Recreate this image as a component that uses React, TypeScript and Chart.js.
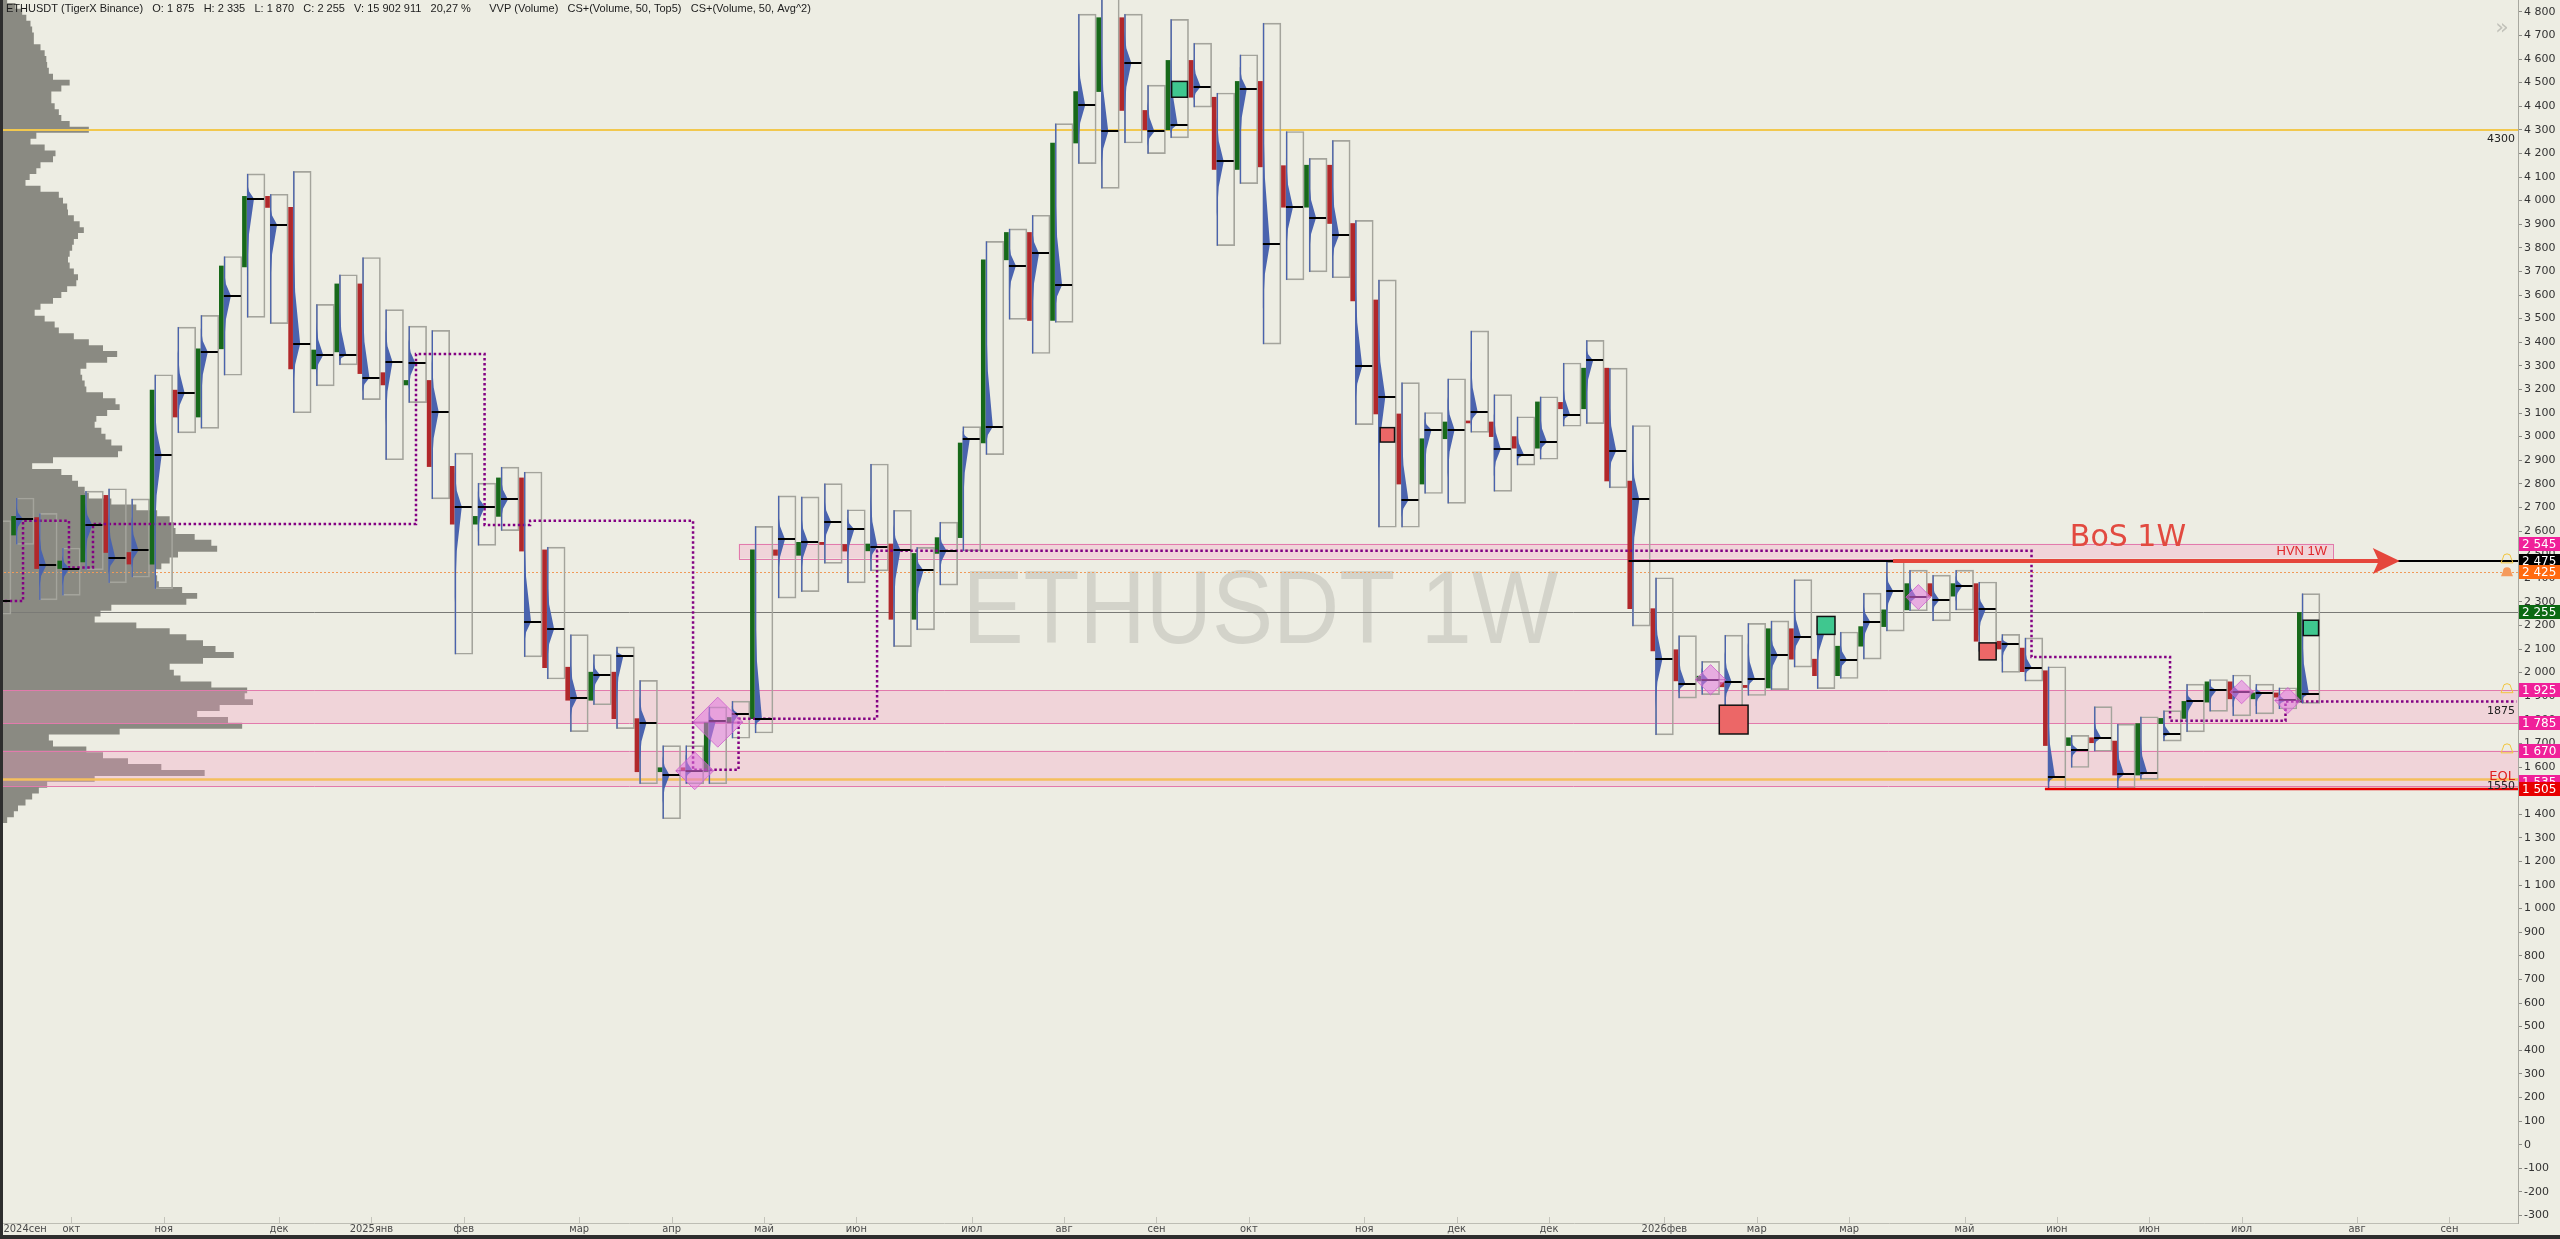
import React, { useEffect, useRef } from "react";
import { Chart, registerables } from "chart.js";

Chart.register(...registerables);

// ---------- weekly candles (index = week number on the x scale) ----------
const OPEN = [2300, 2583, 2657, 2441, 2469, 2751, 2509, 2460, 3197, 3083, 3372, 3719, 4018, 3971, 3287, 3359, 3647, 3271, 3219, 3238,
  2874, 2629, 2662, 2825, 2520, 2023, 1883, 2002, 1805, 1580, 1597, 1580, 1787, 1805, 2520, 2497, 2552, 2543, 2516, 2545,
  2226, 2505, 2572, 2973, 3749, 3865, 3492, 4244, 4462, 4775, 4382, 4300, 4594, 4438, 4132, 4505, 4148, 3972, 4150, 3903,
  3579, 3096, 2799, 2991, 3062, 3062, 3000, 2951, 3145, 3118, 3290, 2812, 2271, 2097, 1965, 1958, 1946, 1935, 2186, 2057,
  1987, 2112, 2195, 2266, 2377, 2324, 2377, 2133, 2104, 2008, 1691, 1724, 1710, 1566, 1784, 1806, 1875, 1961, 1889, 1914, 1875];
const HIGH = [2644, 2740, 2675, 2528, 2769, 2779, 2736, 3262, 3464, 3514, 3763, 4113, 4027, 4124, 3560, 3686, 3759, 3538, 3468, 3450,
  2930, 2803, 2871, 2850, 2532, 2161, 2076, 2109, 1967, 1691, 1691, 1855, 1879, 2620, 2749, 2745, 2801, 2690, 2884, 2688,
  2531, 2638, 3042, 3827, 3880, 3938, 4326, 4790, 4880, 4790, 4489, 4768, 4667, 4456, 4618, 4752, 4293, 4179, 4255, 3916,
  3664, 3229, 3102, 3245, 3448, 3178, 3084, 3169, 3312, 3408, 3290, 3047, 2402, 2157, 2048, 2159, 2209, 2219, 2394, 2205,
  2172, 2337, 2470, 2434, 2413, 2434, 2384, 2162, 2147, 2025, 1734, 1856, 1782, 1813, 1839, 1951, 1971, 1990, 1951, 1936, 2335];
const LOW = [2248, 2543, 2308, 2327, 2436, 2380, 2404, 2355, 3016, 3035, 3260, 3505, 3479, 3101, 3215, 3304, 3157, 2902, 3144, 2736,
  2078, 2539, 2602, 2067, 1973, 1750, 1864, 1763, 1529, 1381, 1529, 1529, 1722, 1744, 2316, 2343, 2463, 2380, 2431, 2110,
  2181, 2371, 2516, 2924, 3497, 3352, 3484, 4157, 4052, 4244, 4199, 4266, 4396, 3809, 4072, 3392, 3664, 3698, 3673, 3051,
  2616, 2616, 2759, 2717, 3018, 2768, 2879, 2904, 3044, 3055, 2783, 2197, 1736, 1892, 1907, 1802, 1903, 1928, 2023, 1932,
  1975, 2057, 2176, 2262, 2219, 2265, 2090, 2001, 1964, 1506, 1598, 1667, 1509, 1548, 1710, 1749, 1836, 1817, 1825, 1846, 1870];
const CLOSE = [2583, 2662, 2441, 2473, 2751, 2509, 2460, 3197, 3083, 3372, 3723, 4018, 3971, 3287, 3367, 3647, 3267, 3219, 3238, 2873,
  2629, 2662, 2825, 2515, 2021, 1883, 2002, 1805, 1580, 1597, 1585, 1787, 1810, 2520, 2497, 2552, 2543, 2515, 2545, 2226,
  2505, 2572, 2973, 3749, 3865, 3492, 4244, 4462, 4775, 4382, 4300, 4594, 4438, 4132, 4505, 4143, 3972, 4150, 3903, 3575,
  3096, 2799, 2991, 3062, 3058, 3000, 2951, 3147, 3118, 3290, 2812, 2271, 2092, 1965, 1985, 1940, 1937, 2186, 2057, 1987,
  2112, 2195, 2266, 2377, 2324, 2377, 2133, 2100, 2004, 1691, 1724, 1703, 1566, 1784, 1806, 1878, 1961, 1889, 1914, 1896, 2255];
const POC = [2303, 2650, 2454, 2441, 2624, 2484, 2519, 2921, 3184, 3359, 3597, 4008, 3898, 3393, 3346, 3346, 3249, 3317, 3310, 3105,
  2703, 2703, 2734, 2216, 2185, 1894, 1989, 2072, 1787, 1565, 1584, 1794, 1824, 1805, 2565, 2552, 2638, 2607, 2534, 2520,
  2433, 2516, 2989, 3042, 3724, 3776, 3642, 4404, 4293, 4583, 4293, 4322, 4482, 4166, 4474, 3816, 3972, 3927, 3854, 3298,
  3169, 2730, 3029, 3029, 3104, 2948, 2924, 2977, 3093, 3323, 2940, 2734, 2057, 1952, 1970, 1960, 1975, 2073, 2152, 2162,
  2054, 2216, 2345, 2320, 2308, 2368, 2268, 2123, 2021, 1559, 1674, 1724, 1569, 1576, 1741, 1878, 1925, 1918, 1914, 1882, 1910];

// ---------- x axis month ticks ----------
const MONTH_TICKS = [1, 3, 7, 12, 16, 20, 25, 29, 33, 37, 42, 46, 50, 54, 59, 63, 67, 72, 76, 80, 85, 89, 93, 97, 102, 106];
const MONTH_LABELS = ["2024сен", "окт", "ноя", "дек", "2025янв", "фев", "мар", "апр", "май", "июн", "июл", "авг", "сен", "окт",
  "ноя", "дек", "дек", "2026фев", "мар", "мар", "май", "июн", "июн", "июл", "авг", "сен"];

// ---------- left visible-range volume profile (bin centre price, volume) ----------
const VP_PRICE = [4850, 4825, 4800, 4775, 4750, 4725, 4700, 4675, 4650, 4625, 4600, 4575, 4550, 4525, 4500, 4475, 4450, 4425, 4400, 4375,
  4350, 4325, 4300, 4275, 4250, 4225, 4200, 4175, 4150, 4125, 4100, 4075, 4050, 4025, 4000, 3975, 3950, 3925, 3900, 3875,
  3850, 3825, 3800, 3775, 3750, 3725, 3700, 3675, 3650, 3625, 3600, 3575, 3550, 3525, 3500, 3475, 3450, 3425, 3400, 3375,
  3350, 3325, 3300, 3275, 3250, 3225, 3200, 3175, 3150, 3125, 3100, 3075, 3050, 3025, 3000, 2975, 2950, 2925, 2900, 2875,
  2850, 2825, 2800, 2775, 2750, 2725, 2700, 2675, 2650, 2625, 2600, 2575, 2550, 2525, 2500, 2475, 2450, 2425, 2400, 2375,
  2350, 2325, 2300, 2275, 2250, 2225, 2200, 2175, 2150, 2125, 2100, 2075, 2050, 2025, 2000, 1975, 1950, 1925, 1900, 1875,
  1850, 1825, 1800, 1775, 1750, 1725, 1700, 1675, 1650, 1625, 1600, 1575, 1550, 1525, 1500, 1475, 1450, 1425, 1400, 1375];
const VP_VOL = [5, 15, 23, 28, 33, 35, 37, 37, 45, 50, 52, 53, 55, 60, 80, 70, 58, 58, 62, 67,
  70, 80, 103, 40, 33, 50, 63, 60, 45, 40, 32, 27, 45, 67, 72, 77, 78, 85, 92, 97,
  90, 85, 83, 80, 78, 80, 85, 90, 88, 77, 70, 60, 45, 38, 50, 62, 67, 85, 103, 120,
  137, 125, 100, 93, 95, 98, 100, 120, 135, 140, 125, 112, 110, 118, 123, 130, 143, 138, 60, 35,
  70, 83, 90, 98, 103, 130, 160, 185, 200, 205, 207, 230, 250, 257, 210, 200, 190, 183, 185, 187,
  215, 233, 220, 130, 117, 110, 160, 200, 220, 240, 255, 277, 240, 200, 205, 213, 250, 293, 290, 300,
  260, 233, 270, 287, 140, 55, 60, 100, 120, 150, 190, 242, 110, 53, 43, 35, 27, 18, 13, 5];
const VP_STEP = 25;

// ---------- levels ----------
// [high, low, xStart | null, xEnd | null]
const ZONES: [number, number, number | null, number | null][] = [
  [2546, 2484, 31.9, 100.95],
  [1925, 1785, null, null],
  [1670, 1520, null, null],
];
// [price, colour, width, dash]
const LEVELS: [number, string, number, number[]][] = [
  [4300, "#f2c84e", 2, []],
  [2425, "#f09a58", 1, [2, 2]],
  [2255, "#7a7a76", 1, []],
  [1549, "#f5bf5c", 2.5, []],
];
const BOS_LEVEL = 2475;
const BOS_LINE_START = 70.45;
const BOS_ARROW = [81.9, 103.85];
const EQL_LEVEL = 1505;
const EQL_LINE_START = 88.48;
// purple dotted step line: [xStart, xEnd, price]
const STEP_SEGMENTS: [number, number, number][] = [
  [-0.1, 0.91, 2303], [0.91, 2.9, 2644], [2.9, 3.94, 2445], [3.94, 17.93, 2630], [17.93, 20.9, 3350],
  [20.9, 22.87, 2626], [22.87, 29.93, 2644], [29.93, 31.9, 1588], [31.9, 37.9, 1805], [37.9, 87.9, 2516],
  [87.9, 93.9, 2066], [93.9, 98.9, 1796], [98.9, 108.9, 1878],
];
// diamonds: [week, price, half-height in price]
const DIAMONDS: [number, number, number][] = [
  [30, 1584, 80], [31, 1790, 106], [74, 1970, 64], [83, 2320, 53], [97, 1918, 50], [99, 1882, 55],
];
// big-trade squares: [week, low, high, kind]
const MARKERS: [number, number, number, string][] = [
  [51, 4438, 4505, "buy"], [79, 2162, 2238, "buy"], [100, 2157, 2222, "buy"],
  [60, 2977, 3038, "sell"], [75, 1740, 1862, "sell"], [86, 2054, 2126, "sell"],
];
// price-axis tags: [price, background, text colour]
const AXIS_TAGS: [number, string, string][] = [
  [2545, "#f0209a", "#ffffff"], [2475, "#000000", "#ffffff"], [2425, "#ff6a10", "#ffffff"],
  [2255, "#0b6a12", "#ffffff"], [1925, "#f0209a", "#ffffff"], [1785, "#f0209a", "#ffffff"],
  [1670, "#f0209a", "#ffffff"], [1535, "#f0209a", "#ffffff"], [1505, "#e80000", "#ffffff"],
];
const X_MIN = -0.087;
const X_MAX = 108.97;
const Y_MIN = -332;
const Y_MAX = 4850;

const BG = "#edede3";
const GREEN = "#17691a";
const RED = "#b1282b";
const HEADER = "ETHUSDT (TigerX Binance)   O: 1 875   H: 2 335   L: 1 870   C: 2 255   V: 15 902 911   20,27 %      VVP (Volume)   CS+(Volume, 50, Top5)   CS+(Volume, 50, Avg^2)";

const fmtPrice = (v: number) => {
  const a = Math.abs(v);
  const s = a >= 1000 ? `${Math.floor(a / 1000)} ${String(a % 1000).padStart(3, "0")}` : String(a);
  return (v < 0 ? "-" : "") + s;
};

const decor = {
  id: "decor",
  beforeDraw(chart: any) {
    const { ctx, width, height } = chart;
    ctx.save();
    ctx.fillStyle = BG;
    ctx.fillRect(0, 0, width, height);
    ctx.restore();
  },
  beforeDatasetsDraw(chart: any) {
    const { ctx, chartArea: ca, scales } = chart;
    const X = (v: number) => scales.x.getPixelForValue(v);
    const Y = (p: number) => scales.y.getPixelForValue(p);
    const W = (w: number) => scales.xv.getPixelForValue(w) - scales.xv.getPixelForValue(0);
    ctx.save();
    ctx.beginPath();
    ctx.rect(ca.left, ca.top, ca.right - ca.left, ca.bottom - ca.top);
    ctx.clip();

    // watermark
    ctx.save();
    ctx.translate(X(54.5), Y(2126));
    ctx.scale(0.89, 1);
    ctx.font = "103px 'Liberation Sans', Arial, sans-serif";
    ctx.fillStyle = "#d3d3ca";
    ctx.textAlign = "center";
    ctx.textBaseline = "alphabetic";
    ctx.fillText("ETHUSDT 1W", 0, 0);
    ctx.restore();

    // visible range volume profile
    const x0 = ca.left + 3;
    ctx.beginPath();
    ctx.moveTo(x0, Y(VP_PRICE[0] + VP_STEP / 2));
    VP_PRICE.forEach((p, k) => {
      const w = W(VP_VOL[k]);
      ctx.lineTo(x0 + w, Y(p + VP_STEP / 2));
      ctx.lineTo(x0 + w, Y(p - VP_STEP / 2));
    });
    ctx.lineTo(x0, Y(VP_PRICE[VP_PRICE.length - 1] - VP_STEP / 2));
    ctx.closePath();
    ctx.fillStyle = "#8a8a82";
    ctx.fill();

    // zones
    ZONES.forEach(([hi, lo, xs, xe]) => {
      const l = xs === null ? ca.left : X(xs);
      const r = xe === null ? ca.right : X(xe);
      const t = Y(hi), b = Y(lo);
      ctx.fillStyle = "rgba(247,154,197,0.30)";
      ctx.fillRect(l, t, r - l, b - t);
      ctx.strokeStyle = "#e27aac";
      ctx.lineWidth = 1;
      if (xs === null) {
        ctx.beginPath();
        ctx.moveTo(l, Math.round(t) + 0.5); ctx.lineTo(r, Math.round(t) + 0.5);
        ctx.moveTo(l, Math.round(b) + 0.5); ctx.lineTo(r, Math.round(b) + 0.5);
        ctx.stroke();
      } else {
        ctx.strokeRect(Math.round(l) + 0.5, Math.round(t) + 0.5, Math.round(r - l), Math.round(b - t));
      }
    });

    // level lines
    LEVELS.forEach(([p, c, w, d]) => {
      ctx.beginPath();
      ctx.setLineDash(d);
      ctx.strokeStyle = c;
      ctx.lineWidth = w;
      const y = Math.round(Y(p)) + (w % 2 ? 0.5 : 0);
      ctx.moveTo(ca.left, y);
      ctx.lineTo(ca.right, y);
      ctx.stroke();
    });
    ctx.setLineDash([]);
    ctx.restore();
  },
  afterDatasetsDraw(chart: any) {
    const { ctx, chartArea: ca, scales } = chart;
    const X = (v: number) => scales.x.getPixelForValue(v);
    const Y = (p: number) => scales.y.getPixelForValue(p);
    ctx.save();
    ctx.beginPath();
    ctx.rect(ca.left, ca.top, ca.right - ca.left, ca.bottom - ca.top);
    ctx.clip();

    // per-week cluster profile + POC
    HIGH.forEach((h, i) => {
      const xl = X(i) - 9;
      const xr = X(i) + 9;
      const yH = Y(h), yL = Y(LOW[i]), yP = Y(POC[i]);
      ctx.fillStyle = "#4a63ae";
      ctx.fillRect(xl, yH, 1.3, yL - yH);
      ctx.beginPath();
      ctx.moveTo(xl, yH + (yP - yH) * 0.35);
      ctx.lineTo(xl + 2, yH + (yP - yH) * 0.7);
      ctx.lineTo(xl + 7, yP);
      ctx.lineTo(xl + 2, yP + (yL - yP) * 0.3);
      ctx.lineTo(xl, yP + (yL - yP) * 0.65);
      ctx.closePath();
      ctx.fill();
      ctx.fillStyle = "#000000";
      ctx.fillRect(xl, Math.round(yP) - 1, xr - xl - 1, 2);
    });

    // diamonds
    DIAMONDS.forEach(([i, p, hh]) => {
      const cx = X(i), cy = Y(p);
      const s = (Y(p - hh) - Y(p + hh)) / 2;
      ctx.beginPath();
      ctx.moveTo(cx, cy - s); ctx.lineTo(cx + s, cy); ctx.lineTo(cx, cy + s); ctx.lineTo(cx - s, cy);
      ctx.closePath();
      ctx.fillStyle = "rgba(226,118,222,0.55)";
      ctx.fill();
      ctx.strokeStyle = "rgba(205,95,205,0.8)";
      ctx.lineWidth = 1;
      ctx.stroke();
      ctx.beginPath();
      ctx.moveTo(cx - s, cy); ctx.lineTo(cx + s, cy);
      ctx.strokeStyle = "rgba(170,60,170,0.6)";
      ctx.stroke();
    });

    // big trade squares
    MARKERS.forEach(([i, lo, hi, kind]) => {
      const t = Y(hi), b = Y(lo);
      const s = b - t;
      const cx = X(i);
      ctx.fillStyle = kind === "buy" ? "#3fc78f" : "#ec6767";
      ctx.fillRect(cx - s / 2, t, s, s);
      ctx.strokeStyle = "#111111";
      ctx.lineWidth = 1.5;
      ctx.strokeRect(cx - s / 2, t, s, s);
    });

    // BoS level line
    ctx.strokeStyle = "#000000";
    ctx.lineWidth = 2;
    ctx.beginPath();
    ctx.moveTo(X(BOS_LINE_START), Math.round(Y(BOS_LEVEL)));
    ctx.lineTo(ca.right, Math.round(Y(BOS_LEVEL)));
    ctx.stroke();
    // red arrow
    const ay = Math.round(Y(BOS_LEVEL));
    const ax0 = X(BOS_ARROW[0]), tip = X(BOS_ARROW[1]);
    ctx.strokeStyle = "#e5463c";
    ctx.lineWidth = 4;
    ctx.beginPath();
    ctx.moveTo(ax0, ay);
    ctx.lineTo(tip - 20, ay);
    ctx.stroke();
    ctx.fillStyle = "#e5463c";
    ctx.beginPath();
    ctx.moveTo(tip, ay);
    ctx.lineTo(tip - 27, ay - 13);
    ctx.lineTo(tip - 21, ay);
    ctx.lineTo(tip - 27, ay + 13);
    ctx.closePath();
    ctx.fill();

    // EQL low line
    ctx.strokeStyle = "#e60000";
    ctx.lineWidth = 2.5;
    ctx.beginPath();
    ctx.moveTo(X(EQL_LINE_START), Math.round(Y(EQL_LEVEL)));
    ctx.lineTo(ca.right, Math.round(Y(EQL_LEVEL)));
    ctx.stroke();

    // texts
    ctx.textBaseline = "middle";
    ctx.font = "30px 'DejaVu Sans', sans-serif";
    ctx.fillStyle = "#e24a40";
    ctx.textAlign = "left";
    ctx.fillText("BoS 1W", X(89.56), Y(2521) - 11);
    ctx.font = "13px 'Liberation Sans', Arial, sans-serif";
    ctx.fillStyle = "#e0282a";
    ctx.textAlign = "right";
    ctx.fillText("HVN 1W", X(100.7), Y(2515));
    ctx.font = "11px 'DejaVu Sans', sans-serif";
    ctx.fillStyle = "#222222";
    ctx.fillText("4300", ca.right - 3, Y(4300) + 9);
    ctx.fillText("1875", ca.right - 3, Y(1878) + 10);
    ctx.fillText("1550", ca.right - 3, Y(1549) + 7);
    ctx.font = "13px 'DejaVu Sans', sans-serif";
    ctx.fillStyle = "#e02020";
    ctx.fillText("EQL", ca.right - 3, Y(1549) - 2);
    ctx.restore();
  },
  afterDraw(chart: any) {
    const { ctx, chartArea: ca, scales, width, height } = chart;
    const X = (v: number) => scales.x.getPixelForValue(v);
    const Y = (p: number) => scales.y.getPixelForValue(p);
    ctx.save();
    // price tags
    ctx.font = "12px 'DejaVu Sans', sans-serif";
    ctx.textAlign = "left";
    ctx.textBaseline = "middle";
    AXIS_TAGS.forEach(([p, bg, fg]) => {
      const y = Math.round(Y(p));
      ctx.fillStyle = bg;
      ctx.fillRect(ca.right + 1, y - 7, width - ca.right - 1, 14);
      ctx.fillStyle = fg;
      ctx.fillText(fmtPrice(p), ca.right + 4, y + 0.5);
    });
    // alert bells
    const bell = (p: number, filled: boolean, col: string) => {
      const bx = ca.right - 11, by = Y(p);
      ctx.beginPath();
      ctx.arc(bx, by - 1, 4, Math.PI, 0);
      ctx.lineTo(bx + 6, by + 4);
      ctx.lineTo(bx - 6, by + 4);
      ctx.closePath();
      ctx.lineWidth = 1;
      if (filled) { ctx.fillStyle = col; ctx.fill(); } else { ctx.strokeStyle = col; ctx.stroke(); }
    };
    bell(2482, false, "#f2c640");
    bell(2425, true, "#f59a5c");
    bell(1932, false, "#f2c640");
    bell(1677, false, "#f2c640");
    // x tick marks + month labels
    ctx.strokeStyle = "#c4c4bb";
    ctx.lineWidth = 1;
    MONTH_TICKS.slice(1).forEach((v) => {
      const x = Math.round(X(v)) + 0.5;
      ctx.beginPath();
      ctx.moveTo(x, ca.bottom - 6);
      ctx.lineTo(x, ca.bottom);
      ctx.stroke();
    });
    ctx.font = "11px 'DejaVu Sans Condensed', 'DejaVu Sans', sans-serif";
    ctx.fillStyle = "#4a4a4a";
    ctx.textAlign = "center";
    ctx.textBaseline = "middle";
    scales.x.ticks.forEach((t: any, k: number) => {
      ctx.fillText(MONTH_LABELS[k] ?? "", X(t.value), ca.bottom + 6);
    });
    // header
    ctx.textAlign = "left";
    ctx.font = "11px 'Liberation Sans', Arial, sans-serif";
    ctx.fillStyle = "#1c1c1c";
    ctx.fillText(HEADER, 6, 9);
    // collapse chevron
    ctx.font = "22px 'DejaVu Sans', sans-serif";
    ctx.fillStyle = "#c2c2ba";
    ctx.textAlign = "center";
    ctx.fillText("»", ca.right - 16, 28);
    // frame strips
    ctx.fillStyle = "#2e2e2e";
    ctx.fillRect(0, 0, 3, height);
    ctx.fillRect(0, height - 4, width, 4);
    ctx.restore();
  },
};

export default function App() {
  const ref = useRef<HTMLCanvasElement>(null);
  useEffect(() => {
    document.body.style.margin = "0";
    const canvas = ref.current;
    if (!canvas) return;
    const bodyColors = OPEN.map((o, i) => (CLOSE[i] > o ? GREEN : RED));
    const stepPoints = STEP_SEGMENTS.flatMap(([a, b, p]) => [{ x: a, y: p }, { x: b, y: p }]);
    const chart = new Chart(canvas, {
      type: "bar",
      data: {
        datasets: [
          {
            type: "line",
            label: "level",
            data: stepPoints,
            borderColor: "#830083",
            borderWidth: 2.5,
            borderDash: [2.5, 2.5],
            pointRadius: 0,
            fill: false,
            tension: 0,
            order: 0,
          } as any,
          {
            label: "body",
            data: OPEN.map((o, i) => ({ x: i - 0.5, y: [o, CLOSE[i]] })),
            backgroundColor: bodyColors,
            borderWidth: 0,
            barThickness: 4,
            minBarLength: 2,
            grouped: false,
            order: 1,
          } as any,
          {
            label: "range",
            data: HIGH.map((h, i) => ({ x: i, y: [LOW[i], h] })),
            backgroundColor: "rgba(0,0,0,0)",
            borderColor: "#a4a49c",
            borderWidth: 1,
            borderSkipped: false,
            barThickness: 18,
            grouped: false,
            order: 2,
          } as any,
        ],
      },
      options: {
        responsive: false,
        animation: false,
        events: [],
        layout: { padding: 0 },
        plugins: { legend: { display: false }, tooltip: { enabled: false } },
        scales: {
          x: {
            type: "linear",
            position: "bottom",
            min: X_MIN,
            max: X_MAX,
            offset: false,
            afterBuildTicks: (ax: any) => {
              ax.ticks = MONTH_TICKS.map((v) => ({ value: v }));
            },
            afterFit: (ax: any) => {
              ax.height = 16;
              ax.paddingLeft = 0;
              ax.paddingRight = 0;
            },
            ticks: { display: false, autoSkip: false, maxRotation: 0, minRotation: 0 },
            grid: { display: false },
            border: { display: true, color: "#bdbdb4" },
          },
          xv: {
            type: "linear",
            position: "top",
            display: false,
            min: 0,
            max: 2518,
          },
          y: {
            type: "linear",
            position: "right",
            min: Y_MIN,
            max: Y_MAX,
            afterFit: (ax: any) => {
              ax.width = 42;
              ax.paddingTop = 0;
              ax.paddingBottom = 0;
            },
            ticks: {
              stepSize: 100,
              maxTicksLimit: 200,
              includeBounds: false,
              autoSkip: false,
              padding: 2,
              color: "#333333",
              font: { family: "'DejaVu Sans', sans-serif", size: 11 },
              callback: (v: any) => fmtPrice(Number(v)),
            },
            grid: { display: true, drawOnChartArea: false, drawTicks: true, tickLength: 4, color: "#8a8a84" },
            border: { display: true, color: "#a8a8a0" },
          },
        },
      },
      plugins: [decor],
    } as any);
    return () => chart.destroy();
  }, []);
  return (
    <div style={{ position: "fixed", left: 0, top: 0, width: 2560, height: 1239, background: BG, overflow: "hidden" }}>
      <canvas ref={ref} width={2560} height={1239} style={{ display: "block", width: "2560px", height: "1239px" }} />
    </div>
  );
}
